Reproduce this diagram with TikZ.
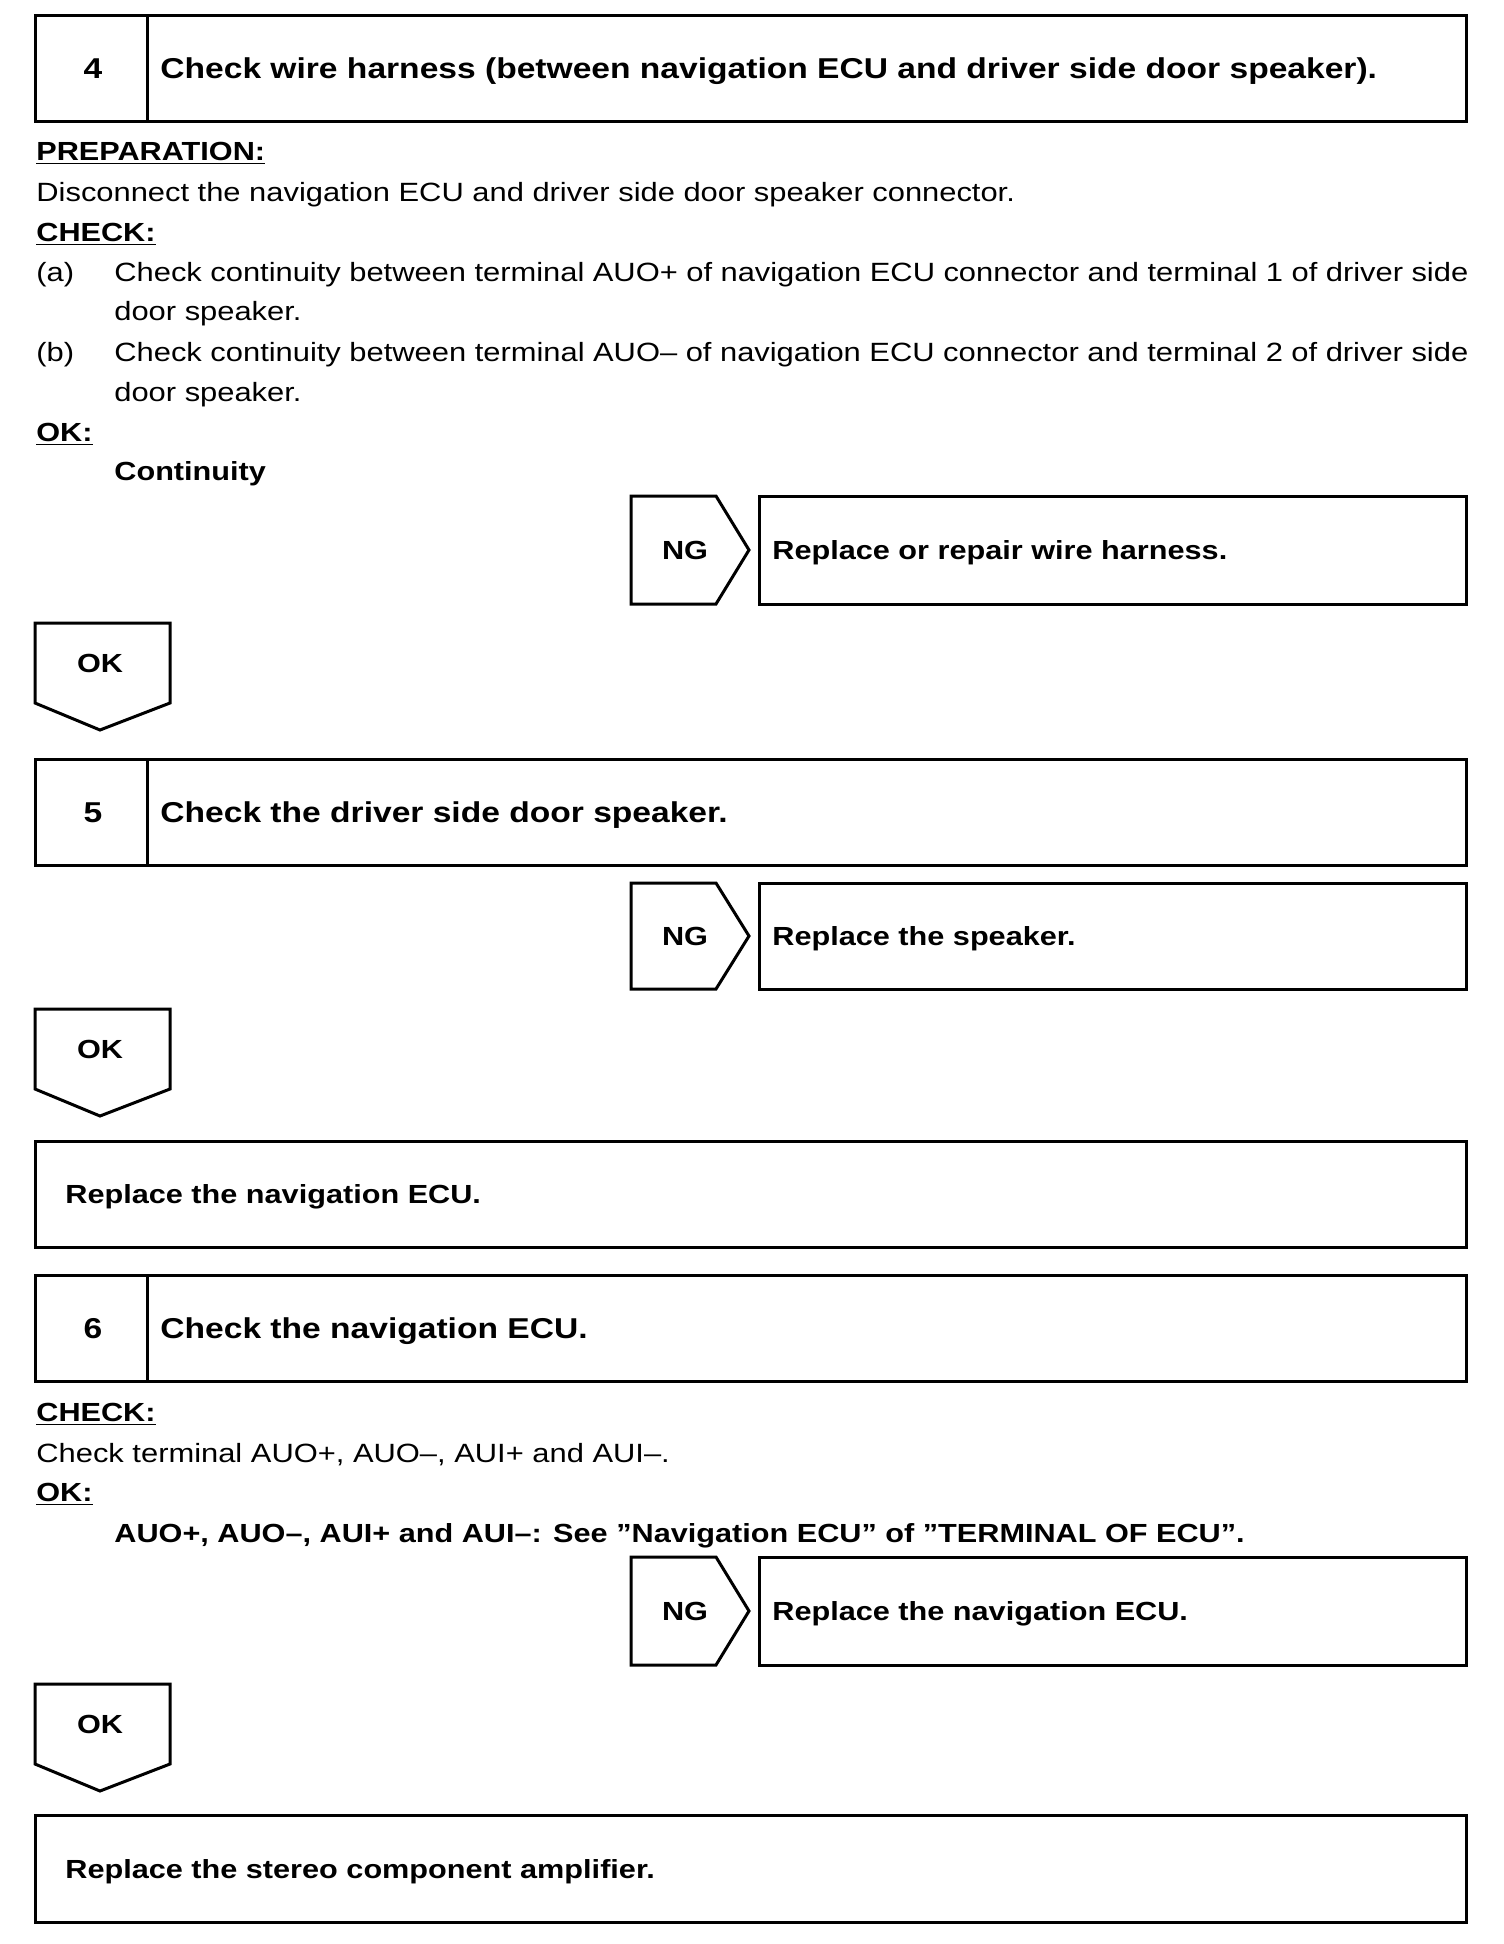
\documentclass[tikz,border=0pt]{standalone}
\usepackage{fontspec}
\setmainfont{Liberation Sans}[FakeStretch=1.17]

\begin{document}
\begin{tikzpicture}[x=0.5pt,y=-0.5pt,
  frame/.style={draw,line width=1.5pt},
  txt/.style={anchor=base west,inner sep=0pt,font=\fontsize{13.2}{16}\selectfont},
  btxt/.style={anchor=base west,inner sep=0pt,font=\fontsize{13.1}{16}\selectfont\bfseries},
  ttxt/.style={anchor=base west,inner sep=0pt,font=\fontsize{14.35}{17}\selectfont\bfseries},
  ctxt/.style={anchor=base,inner sep=0pt,font=\fontsize{13.1}{16}\selectfont\bfseries}]
\useasboundingbox (0,0) rectangle (1504,1944);

% step 4
\draw[frame] (35,15) rectangle (1466,121);
\draw[frame] (147,15) -- (147,121);
\node[ctxt,font=\fontsize{14.35}{17}\selectfont\bfseries] (num4) at (93,78) {4};
\node[ttxt] (title4) at (160,78) {Check wire harness (between navigation ECU and driver side door speaker).};

\node[btxt] (prep4) at (36,160) {\underline{PREPARATION:}};
\node[txt] (prepline4) at (36,201) {Disconnect the navigation ECU and driver side door speaker connector.};
\node[btxt] (check4) at (36,241) {\underline{CHECK:}};
\node[txt] (a4) at (36,281) {(a)};
\node[txt] (aline4) at (114,281) {\makebox[677pt][s]{Check continuity between terminal AUO+ of navigation ECU connector and terminal 1 of driver side}};
\node[txt] (aline4b) at (114,320) {door speaker.};
\node[txt] (b4) at (36,361) {(b)};
\node[txt] (bline4) at (114,361) {\makebox[677pt][s]{Check continuity between terminal AUO\textendash{} of navigation ECU connector and terminal 2 of driver side}};
\node[txt] (bline4b) at (114,401) {door speaker.};
\node[btxt] (ok4) at (36,441) {\underline{OK:}};
\node[btxt] (okline4) at (114,480) {Continuity};

\draw[frame] (631,496) -- (716,496) -- (749,550) -- (716,604) -- (631,604) -- cycle;
\node[ctxt] (ng4) at (685,559) {NG};
\draw[frame] (759,496) rectangle (1466,604);
\node[btxt] (fix4) at (772,559) {Replace or repair wire harness.};

\draw[frame] (35,623) -- (170,623) -- (170,703) -- (100,730) -- (35,703) -- cycle;
\node[ctxt] (ok4arrow) at (100,672) {OK};

% step 5
\draw[frame] (35,759) rectangle (1466,865);
\draw[frame] (147,759) -- (147,865);
\node[ctxt,font=\fontsize{14.35}{17}\selectfont\bfseries] (num5) at (93,822) {5};
\node[ttxt] (title5) at (160,822) {Check the driver side door speaker.};

\draw[frame] (631,883) -- (716,883) -- (749,936) -- (716,989) -- (631,989) -- cycle;
\node[ctxt] (ng5) at (685,945) {NG};
\draw[frame] (759,883) rectangle (1466,989);
\node[btxt] (fix5) at (772,945) {Replace the speaker.};

\draw[frame] (35,1009) -- (170,1009) -- (170,1089) -- (100,1116) -- (35,1089) -- cycle;
\node[ctxt] (ok5arrow) at (100,1058) {OK};

\draw[frame] (35,1141) rectangle (1466,1247);
\node[btxt] (fix5b) at (65,1203) {Replace the navigation ECU.};

% step 6
\draw[frame] (35,1275) rectangle (1466,1381);
\draw[frame] (147,1275) -- (147,1381);
\node[ctxt,font=\fontsize{14.35}{17}\selectfont\bfseries] (num6) at (93,1338) {6};
\node[ttxt] (title6) at (160,1338) {Check the navigation ECU.};

\node[btxt] (check6) at (36,1421) {\underline{CHECK:}};
\node[txt] (checkline6) at (36,1462) {Check terminal AUO+, AUO\textendash, AUI+ and AUI\textendash.};
\node[btxt] (ok6) at (36,1501) {\underline{OK:}};
\node[btxt] (okline6) at (114,1542) {AUO+, AUO\textendash, AUI+ and AUI\textendash: See ''Navigation ECU'' of ''TERMINAL OF ECU''.};

\draw[frame] (631,1557) -- (716,1557) -- (749,1611) -- (716,1665) -- (631,1665) -- cycle;
\node[ctxt] (ng6) at (685,1620) {NG};
\draw[frame] (759,1557) rectangle (1466,1665);
\node[btxt] (fix6) at (772,1620) {Replace the navigation ECU.};

\draw[frame] (35,1684) -- (170,1684) -- (170,1764) -- (100,1791) -- (35,1764) -- cycle;
\node[ctxt] (ok6arrow) at (100,1733) {OK};

\draw[frame] (35,1815) rectangle (1466,1922);
\node[btxt] (fix6b) at (65,1878) {Replace the stereo component amplifier.};
\end{tikzpicture}
\end{document}
